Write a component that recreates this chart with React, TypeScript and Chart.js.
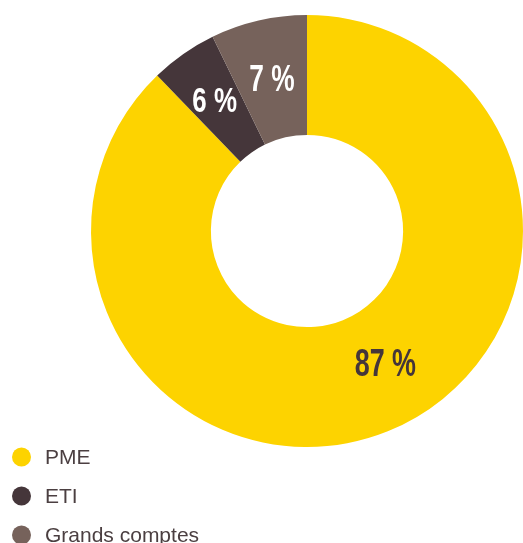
import React, { useEffect, useRef } from "react";
import { Chart, registerables } from "chart.js";

Chart.register(...registerables);

const categories = ["PME", "ETI", "Grands comptes"];
const shares = [87.8, 5.0, 7.2];
const valueLabels = ["87 %", "6 %", "7 %"];
const sliceColors = ["#FDD300", "#45363A", "#76625B"];
const valueLabelColors = ["#45363A", "#FFFFFF", "#FFFFFF"];
const valueLabelSizes = [39, 35, 36];
const valueLabelStretch = [0.69, 0.74, 0.73];
const valueLabelOffsets = [
  [20, -14],
  [-3, -4],
  [0, -1],
];

const W = 523;
const H = 543;

const valueLabelPlugin = {
  id: "valueLabels",
  afterDatasetsDraw(chart: any) {
    const ctx = chart.ctx;
    const meta = chart.getDatasetMeta(0);
    meta.data.forEach((arc: any, i: number) => {
      const p = arc.tooltipPosition();
      const size = valueLabelSizes[i];
      const x = p.x + valueLabelOffsets[i][0];
      const y = p.y + valueLabelOffsets[i][1];
      ctx.save();
      ctx.font = `bold ${size}px "Liberation Sans", Arial, sans-serif`;
      ctx.fillStyle = valueLabelColors[i];
      ctx.textAlign = "center";
      ctx.textBaseline = "alphabetic";
      ctx.translate(x, y + (size * 0.716) / 2);
      ctx.scale(valueLabelStretch[i], 1);
      ctx.fillText(valueLabels[i], 0, 0);
      ctx.restore();
    });
  },
};

const legendPlugin = {
  id: "customLegend",
  afterDraw(chart: any) {
    const ctx = chart.ctx;
    const startY = 457;
    const step = 39;
    categories.forEach((name, i) => {
      const cy = startY + i * step;
      ctx.save();
      ctx.beginPath();
      ctx.arc(21.5, cy, 9.5, 0, Math.PI * 2);
      ctx.fillStyle = sliceColors[i];
      ctx.fill();
      ctx.font = `21px "Liberation Sans", Arial, sans-serif`;
      ctx.fillStyle = "#4B3F41";
      ctx.textAlign = "left";
      ctx.textBaseline = "alphabetic";
      ctx.fillText(name, 45, cy + 7);
      ctx.restore();
    });
  },
};

export default function App() {
  const ref = useRef<HTMLCanvasElement | null>(null);
  useEffect(() => {
    if (!ref.current) return;
    const chart = new Chart(ref.current, {
      type: "doughnut",
      data: {
        labels: categories,
        datasets: [
          {
            data: shares,
            backgroundColor: sliceColors,
            borderWidth: 0,
          },
        ],
      },
      options: {
        responsive: false,
        animation: false,
        cutout: "44.5%",
        layout: { padding: { left: 91, top: 15, right: 0, bottom: 96 } },
        plugins: {
          legend: { display: false },
          tooltip: { enabled: false },
        },
      },
      plugins: [valueLabelPlugin, legendPlugin],
    });
    return () => chart.destroy();
  }, []);
  return (
    <div style={{ position: "absolute", left: 0, top: 0, width: W, height: H, background: "#fff" }}>
      <canvas ref={ref} width={W} height={H} style={{ display: "block" }} />
    </div>
  );
}
